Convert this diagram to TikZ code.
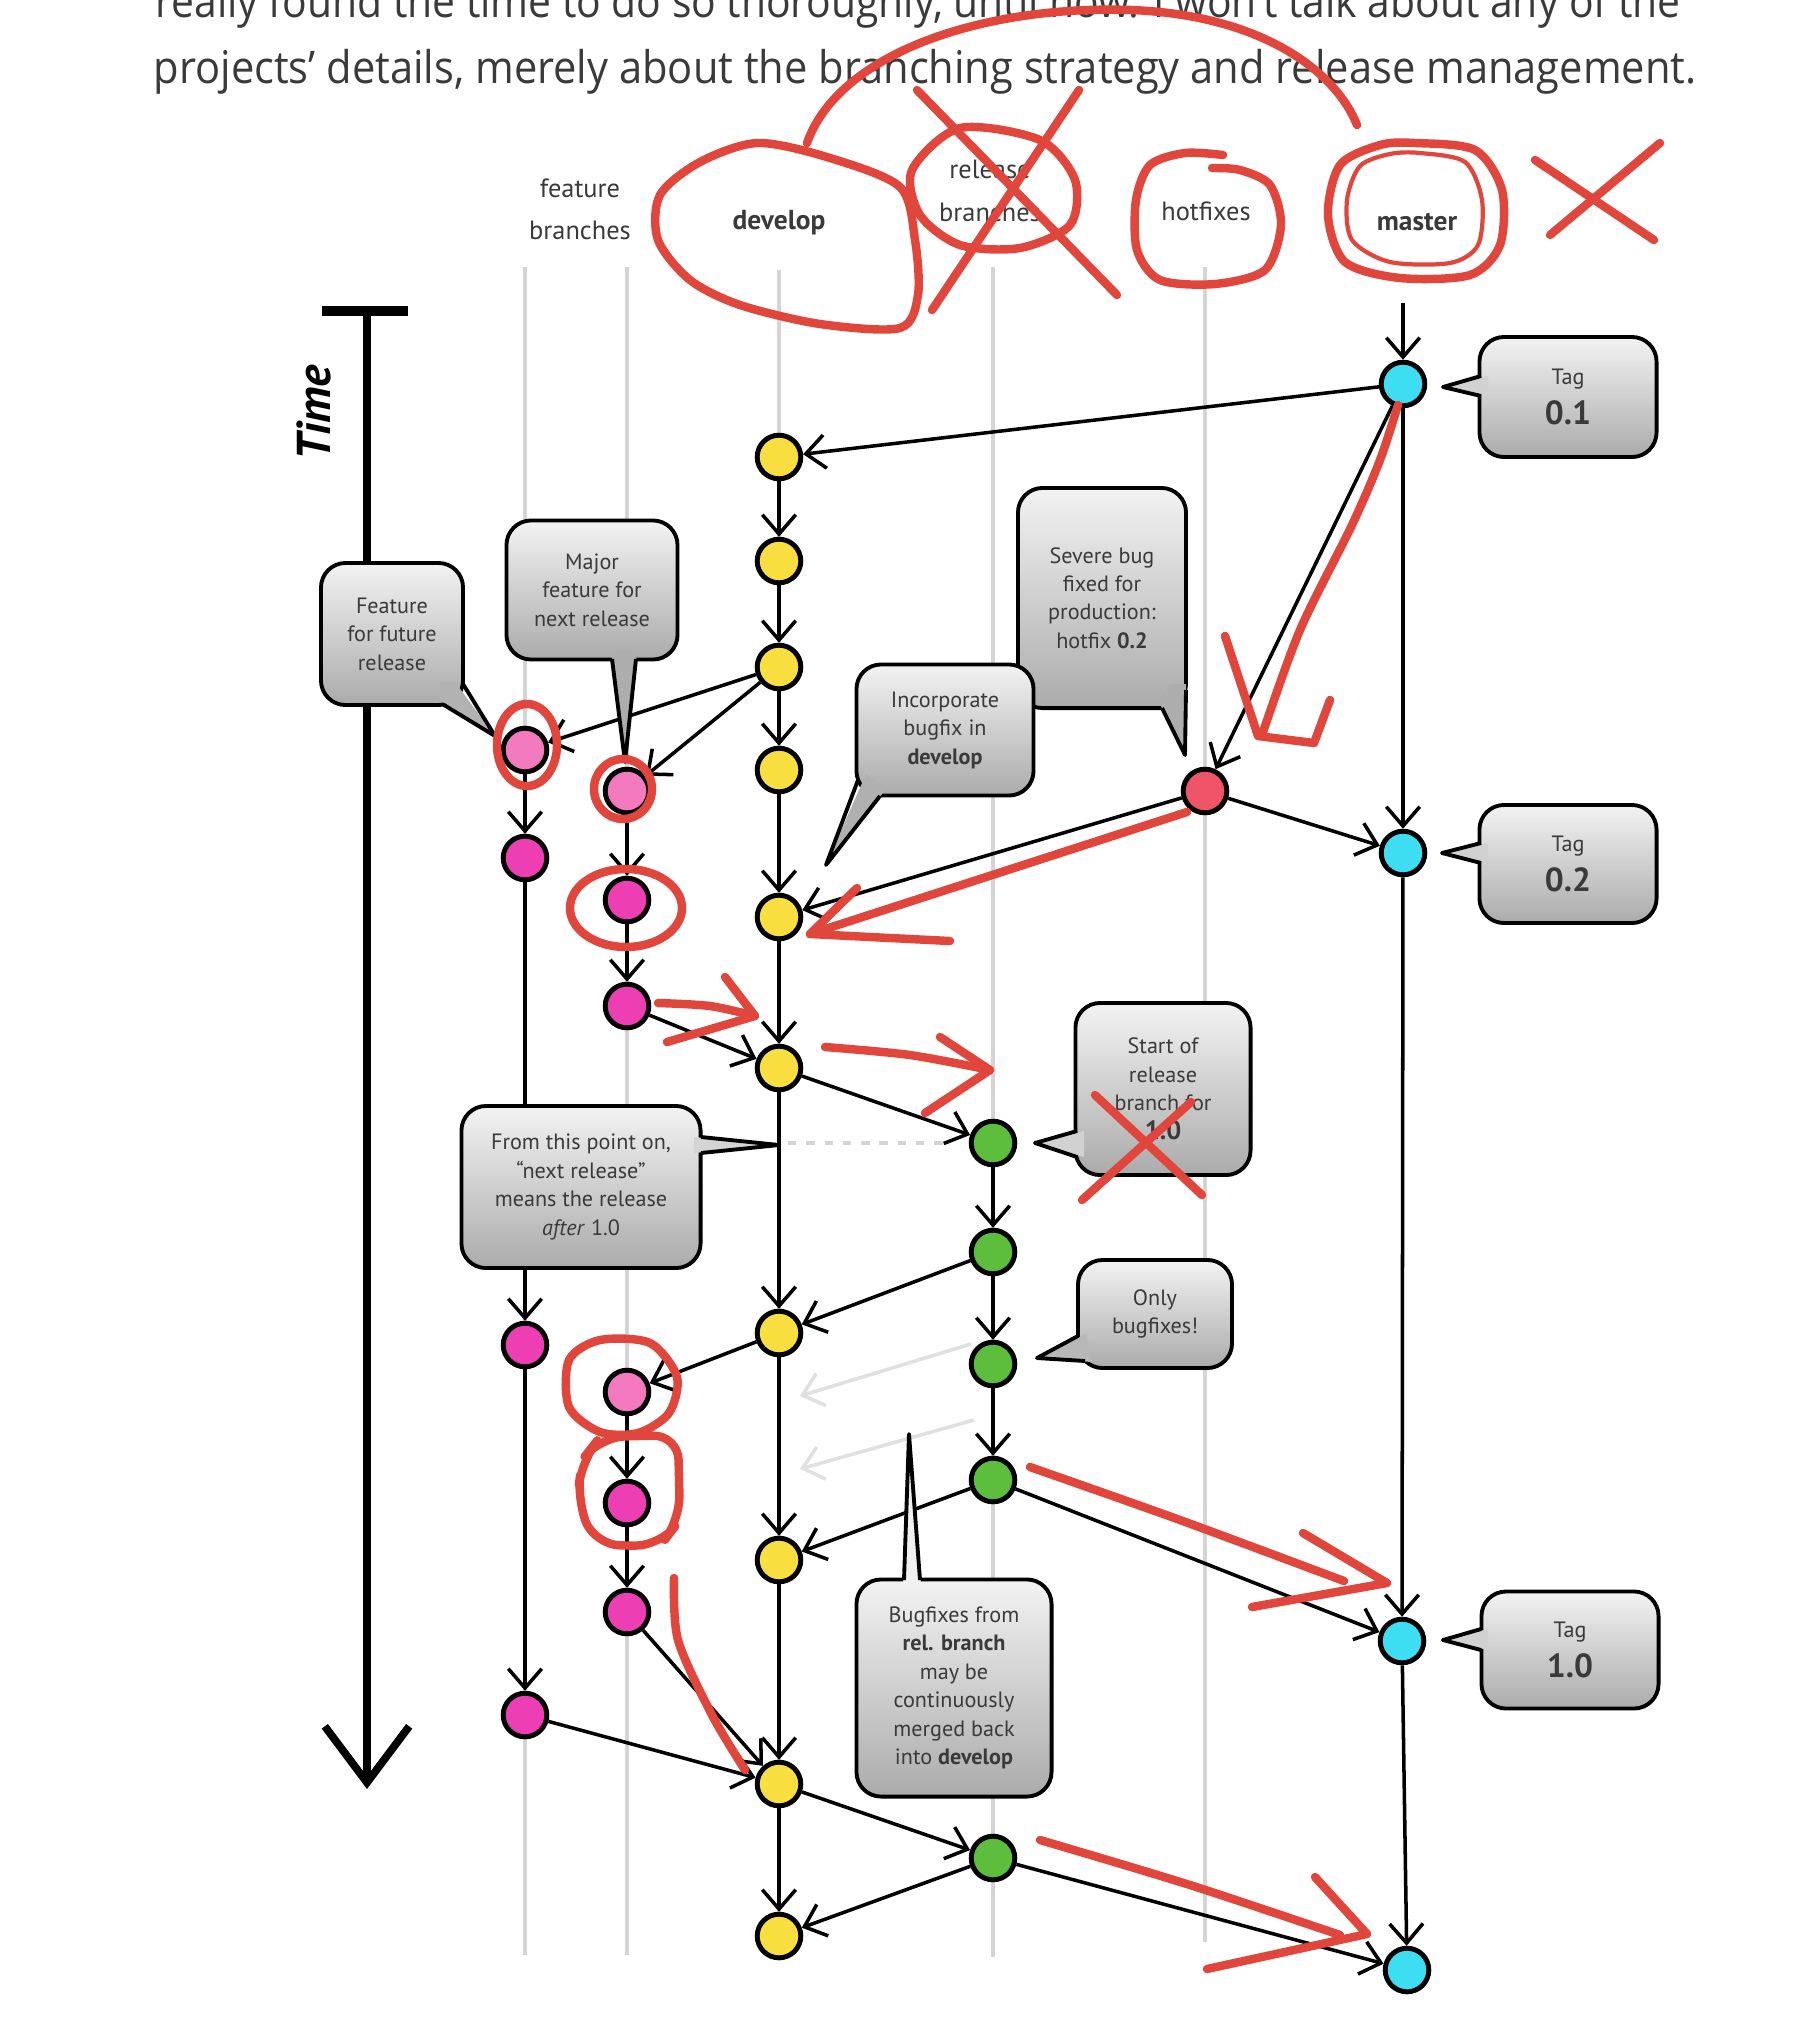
\documentclass[tikz,border=0pt]{standalone}
\usepackage{fontspec}
\setmainfont{PT Sans}
\newfontfamily\parafont[FakeStretch=0.925]{Open Sans}
\usepackage{tikz}
\usetikzlibrary{arrows.meta}

\definecolor{devyellow}{RGB}{248,222,62}
\definecolor{mastercyan}{RGB}{62,222,242}
\definecolor{featpink}{RGB}{244,122,192}
\definecolor{featmagenta}{RGB}{238,62,180}
\definecolor{relgreen}{RGB}{92,190,60}
\definecolor{hotred}{RGB}{240,84,104}
\definecolor{annot}{RGB}{225,70,60}
\definecolor{lanegray}{RGB}{212,212,212}
\definecolor{ghostgray}{RGB}{224,224,224}
\definecolor{inkgray}{RGB}{58,58,58}

\newcommand\lanefont{\fontsize{7.5}{12}\selectfont}
\newcommand\lanebold{\fontsize{7.8}{12}\selectfont\bfseries}
\newcommand\calloutfont{\fontsize{6.3}{8.1}\selectfont}
\newcommand\tagnum[1]{{\fontsize{9.5}{10}\selectfont\bfseries #1}}

\tikzset{
    commit/.style={circle, draw=black, line width=1.4pt, minimum size=12.4pt, inner sep=0pt},
    dev/.style={commit, fill=devyellow},
    mst/.style={commit, fill=mastercyan},
    featlight/.style={commit, fill=featpink},
    feat/.style={commit, fill=featmagenta},
    rel/.style={commit, fill=relgreen},
    hot/.style={commit, fill=hotred},
    lane/.style={draw=lanegray, line width=1.4pt},
    flow/.style={-{Straight Barb[length=5.5pt,width=9.5pt]}, line width=1pt},
    ghost/.style={flow, draw=ghostgray},
    callout/.style={rectangle, rounded corners=7pt, draw=black, line width=1.1pt, top color=black!5, bottom color=black!33, align=center, inner sep=2pt, text=inkgray, font=\calloutfont},
    tailfill/.style={fill=black!#1},
    tailline/.style={draw=black, line width=1.1pt, line join=round},
    header/.style={font=\lanefont, align=center, text=inkgray},
    para/.style={anchor=base west, inner sep=0pt, text=inkgray, font=\parafont\fontsize{12.8}{15}\selectfont},
    redmark/.style={draw=annot, line width=2.4pt, line cap=round, line join=round}
}

\begin{document}
\begin{tikzpicture}[x=0.01cm, y=-0.01cm]
    \useasboundingbox (0,0) rectangle (1806,2030);
    \fill[white] (0,0) rectangle (1806,2030);
    \clip (0,0) rectangle (1806,2030);

    % text of the page above the figure
    \node[para] (line1) at (155,18) {\scalebox{0.98}[1]{really found the time to do so thoroughly, until now. I won’t talk about any of the}};
    \node[para] (line2) at (153,83) {projects’ details, merely about the branching strategy and release management.};

    % lane titles
    \node[header] (hfeat) at (580,209) {feature\\branches};
    \node[header, font=\lanebold] (hdev) at (779,223) {develop};
    \node[header] (hrel) at (990,191) {release\\branches};
    \node[header] (hhot) at (1206,211) {hotfixes};
    \node[header, font=\lanebold] (hmst) at (1417,222) {master};

    % lanes
    \draw[lane] (525,267) -- (525,1955);
    \draw[lane] (627,267) -- (627,1955);
    \draw[lane] (779,270) -- (779,1935);
    \draw[lane] (993,267) -- (993,1957);
    \draw[lane] (1205,267) -- (1205,1942);

    % time axis
    \coordinate (ttop) at (367,312);
    \coordinate (tbot) at (367,1789);
    \draw[line width=2.6pt] (322,311) -- (408,311);
    \draw[line width=2pt, -{Straight Barb[length=16pt,width=24pt,line width=2.2pt]}] (ttop) -- (tbot);
    \node[rotate=90, font=\fontsize{13.5}{15}\selectfont\bfseries\itshape] (timelbl) at (314,413) {Time};

    % commits
    \node[mst] (m1) at (1403,384) {};
    \node[mst] (m2) at (1403,853) {};
    \node[mst] (m3) at (1402,1641) {};
    \node[mst] (m4) at (1407,1970) {};
    \node[dev] (d1) at (779,457) {};
    \node[dev] (d2) at (779,561) {};
    \node[dev] (d3) at (779,667) {};
    \node[dev] (d4) at (779,770) {};
    \node[dev] (d5) at (779,917) {};
    \node[dev] (d6) at (779,1068) {};
    \node[dev] (d7) at (779,1333) {};
    \node[dev] (d8) at (779,1560) {};
    \node[dev] (d9) at (779,1784) {};
    \node[dev] (d10) at (779,1936) {};
    \node[featlight] (a1) at (525,750) {};
    \node[feat] (a2) at (525,858) {};
    \node[feat] (a3) at (525,1345) {};
    \node[feat] (a4) at (525,1715) {};
    \node[featlight] (b1) at (627,791) {};
    \node[feat] (b2) at (627,900) {};
    \node[feat] (b3) at (627,1006) {};
    \node[featlight] (b4) at (627,1392) {};
    \node[feat] (b5) at (627,1503) {};
    \node[feat] (b6) at (627,1612) {};
    \node[rel] (r1) at (993,1143) {};
    \node[rel] (r2) at (993,1252) {};
    \node[rel] (r3) at (993,1364) {};
    \node[rel] (r4) at (993,1480) {};
    \node[rel] (r5) at (993,1858) {};
    \node[hot] (h1) at (1205,791) {};

    % connectors
    \coordinate (mtop) at (1403,303);
    \draw[flow] (mtop) -- (m1);
    \draw[flow] (m1) -- (m2);
    \draw[flow] (m2) -- (m3);
    \draw[flow] (m3) -- (m4);
    \draw[flow] (m1) -- (d1);
    \draw[flow] (m1) -- (h1);
    \draw[flow] (h1) -- (m2);
    \draw[flow] (h1) -- (d5);
    \foreach \a/\b in {d1/d2,d2/d3,d3/d4,d4/d5,d5/d6,d6/d7,d7/d8,d8/d9,d9/d10}
        \draw[flow] (\a) -- (\b);
    \draw[flow] (d3) -- (a1);
    \draw[flow] (d3) -- (b1);
    \foreach \a/\b in {a1/a2,a2/a3,a3/a4,b1/b2,b2/b3,b4/b5,b5/b6,r1/r2,r2/r3,r3/r4}
        \draw[flow] (\a) -- (\b);
    \draw[flow] (b3) -- (d6);
    \draw[flow] (d7) -- (b4);
    \draw[flow] (a4) -- (d9);
    \draw[flow] (b6) -- (d9);
    \draw[flow] (d6) -- (r1);
    \draw[flow] (r2) -- (d7);
    \draw[flow] (r4) -- (d8);
    \draw[flow] (r4) -- (m3);
    \draw[flow] (d9) -- (r5);
    \draw[flow] (r5) -- (d10);
    \draw[flow] (r5) -- (m4);
    \coordinate (g1s) at (971,1344);
    \coordinate (g1e) at (800,1396);
    \coordinate (g2s) at (974,1420);
    \coordinate (g2e) at (800,1469);
    \draw[ghost] (g1s) -- (g1e);
    \draw[ghost] (g2s) -- (g2e);
    \coordinate (dashs) at (788,1143);
    \coordinate (dashe) at (946,1143);
    \draw[draw=lanegray, line width=1.1pt, dash pattern=on 2.4pt off 2.8pt] (dashs) -- (dashe);

    % callouts
    \node[callout, minimum width=1.77cm, minimum height=1.2cm] (tag01) at (1568,397) {Tag\\[2pt]\tagnum{0.1}};
    \node[callout, minimum width=1.77cm, minimum height=1.18cm] (tag02) at (1568,864) {Tag\\[2pt]\tagnum{0.2}};
    \node[callout, minimum width=1.77cm, minimum height=1.17cm] (tag10) at (1570,1650) {Tag\\[2pt]\tagnum{1.0}};
    \node[callout, minimum width=1.42cm, minimum height=1.42cm] (cfuture) at (392,634) {Feature\\for future\\release};
    \node[callout, minimum width=1.71cm, minimum height=1.39cm] (cmajor) at (592,590) {Major\\feature for\\next release};
    \node[callout, minimum width=1.68cm, minimum height=2.2cm] (csevere) at (1102,598) {Severe bug\\fixed for\\production:\\hotfix \textbf{0.2}};
    \node[callout, minimum width=1.77cm, minimum height=1.31cm] (cincorp) at (945,730) {Incorporate\\bugfix in\\\textbf{develop}};
    \node[callout, minimum width=1.75cm, minimum height=1.72cm] (cstart) at (1163,1089) {Start of\\release\\branch for\\{\fontsize{7.5}{8.1}\selectfont\bfseries 1.0}};
    \node[callout, minimum width=2.39cm, minimum height=1.62cm] (cpoint) at (581,1187) {From this point on,\\“next release”\\means the release\\\textit{after} 1.0};
    \node[callout, minimum width=1.54cm, minimum height=1.08cm] (conly) at (1155,1314) {Only\\bugfixes!};
    \node[callout, minimum width=1.95cm, minimum height=2.17cm] (cbugfix) at (954,1688) {Bugfixes from\\\textbf{rel. branch}\\may be\\continuously\\merged back\\into \textbf{develop}};

    % callout tails
    \fill[tailfill=18] (1488,376) -- (1443,387) -- (1488,396) -- cycle;
    \draw[tailline] (1481,376) -- (1443,387) -- (1481,396);
    \fill[tailfill=18] (1488,843) -- (1442,853) -- (1488,863) -- cycle;
    \draw[tailline] (1481,843) -- (1442,853) -- (1481,863);
    \fill[tailfill=18] (1488,1629) -- (1443,1640) -- (1488,1650) -- cycle;
    \draw[tailline] (1481,1629) -- (1443,1640) -- (1481,1650);
    \fill[tailfill=30] (455,682) -- (495,736) -- (440,700) -- (440,682) -- cycle;
    \draw[tailline] (463,684) -- (495,736) -- (444,705);
    \fill[tailfill=32] (611,652) -- (625,762) -- (637,652) -- cycle;
    \draw[tailline] (612,659) -- (625,762) -- (636,659);
    \fill[tailfill=32] (1158,700) -- (1185,755) -- (1186,684) -- (1170,684) -- cycle;
    \draw[tailline] (1162,708) -- (1185,755) -- (1186,690);
    \fill[tailfill=31] (866,774) -- (826,865) -- (886,789) -- cycle;
    \draw[tailline] (858,780) -- (826,865) -- (880,796);
    \fill[tailfill=18] (1084,1131) -- (1035,1143) -- (1084,1157) -- cycle;
    \draw[tailline] (1077,1131) -- (1035,1143) -- (1077,1157);
    \fill[tailfill=17] (694,1137) -- (779,1145) -- (694,1153) -- cycle;
    \draw[tailline] (701,1137) -- (779,1145) -- (701,1153);
    \fill[tailfill=28] (1086,1334) -- (1037,1358) -- (1092,1362) -- cycle;
    \draw[tailline] (1078,1336) -- (1037,1358) -- (1085,1361);
    \fill[tailfill=6] (903,1587) -- (909,1434) -- (921,1587) -- cycle;
    \draw[tailline] (904,1580) -- (909,1434) -- (920,1580);

    % red marks made over the picture
    \draw[redmark] (807,143) .. controls (840,50) and (990,5) .. (1131,10)
        .. controls (1260,15) and (1335,70) .. (1357,125);
    \draw[redmark] plot[smooth cycle] coordinates {(758,143) (830,158) (900,187) (915,240) (918,295) (900,328) (820,324) (740,305) (690,280) (658,240) (660,195) (700,162)};
    \draw[redmark] plot[smooth cycle] coordinates {(960,128) (1040,140) (1075,180) (1070,225) (1020,248) (960,245) (920,215) (912,170)};
    \draw[redmark] (917,90) -- (1117,295);
    \draw[redmark] (1079,90) -- (932,310);
    \draw[redmark] plot[smooth] coordinates {(1223,155) (1185,153) (1150,165) (1136,200) (1137,250) (1160,280) (1215,284) (1265,270) (1281,225) (1270,185) (1240,170) (1212,168)};
    \draw[redmark] plot[smooth cycle] coordinates {(1415,143) (1475,150) (1502,190) (1500,245) (1470,275) (1400,278) (1345,262) (1328,215) (1340,165) (1380,145)};
    \draw[redmark, line width=1.2pt] plot[smooth cycle] coordinates {(1420,153) (1465,162) (1482,200) (1478,245) (1450,263) (1390,262) (1352,240) (1347,200) (1360,166) (1390,154)};
    \draw[redmark] (1535,160) -- (1654,240);
    \draw[redmark] (1660,143) -- (1550,235);
    \draw[redmark] plot[smooth] coordinates {(1398,405) (1380,460) (1352,525) (1300,630) (1262,735)};
    \draw[redmark] (1225,636) -- (1258,736) -- (1314,743) -- (1330,700);
    \draw[redmark] (1187,812) -- (810,934);
    \draw[redmark] (857,888) -- (810,934) -- (950,941);
    \draw[redmark] (527,745) ellipse [x radius=0.3cm, y radius=0.41cm];
    \draw[redmark] (623,789) ellipse [x radius=0.29cm, y radius=0.3cm];
    \draw[redmark] (626,908) ellipse [x radius=0.56cm, y radius=0.39cm];
    \draw[redmark] plot[smooth] coordinates {(658,1003) (710,1006) (755,1016)};
    \draw[redmark] (725,977) -- (755,1016) -- (667,1042);
    \draw[redmark] plot[smooth] coordinates {(825,1047) (910,1055) (990,1070)};
    \draw[redmark] (940,1037) -- (990,1070) -- (925,1113);
    \draw[redmark] (1095,1095) -- (1202,1195);
    \draw[redmark] (1191,1102) -- (1082,1200);
    \draw[redmark] plot[smooth cycle] coordinates {(569,1360) (600,1340) (650,1343) (677,1377) (669,1413) (638,1433) (600,1432) (569,1407)};
    \draw[redmark, rounded corners=0.25cm] (600,1437) -- (678,1435) -- (680,1520) -- (660,1546) -- (595,1545) -- (577,1500) -- (582,1460) -- cycle;
    \draw[redmark] plot[smooth] coordinates {(674,1578) (678,1640) (712,1715) (745,1770)};
    \draw[redmark] plot[smooth] coordinates {(1030,1467) (1180,1520) (1344,1581)};
    \draw[redmark] (1303,1533) -- (1387,1583) -- (1252,1607);
    \draw[redmark] plot[smooth] coordinates {(1040,1840) (1190,1885) (1340,1935)};
    \draw[redmark] (1315,1877) -- (1367,1934) -- (1207,1969);
\end{tikzpicture}
\end{document}
